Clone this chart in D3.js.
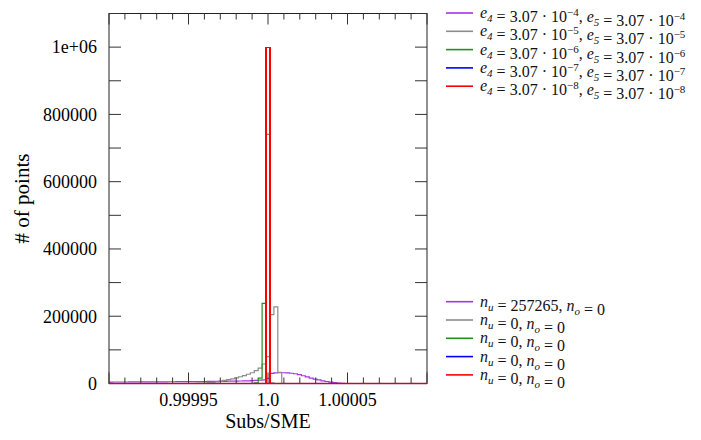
<!DOCTYPE html>
<html>
<head>
<meta charset="utf-8">
<script src="https://cdn.jsdelivr.net/npm/d3@7"></script>
<style>
  body { margin: 0; background: #fff; }
  svg { display: block; }
  svg text { font-family: "Times New Roman", Tinos, "Liberation Serif", "Noto Serif", "DejaVu Serif", Times, serif; }
</style>
</head>
<body>
<div id="graph"></div>
<script>
// binning of the histograms (81 bins, centre bin on 1.0)
const binLo = 0.9999, binHi = 1.0001, nBins = 81;

// counts per bin, starting at bin offset (0 = bin centred on 1.0)
const purpleStart = -40;
const purpleCounts = [4300, 4400, 4400, 4500, 4500, 4600, 4600, 4700, 4700, 4800,
  4800, 4900, 5000, 5000, 5100, 5200, 5200, 5300, 5400, 5500,
  5600, 5700, 5800, 5900, 6000, 6100, 6200, 6400, 6500, 6600,
  6800, 7000, 7200, 7400, 7700, 8000, 8500, 9000, 9800, 11000,
  15000,
  30000, 31500, 32000, 32000, 31500, 30500, 29000, 26500, 23000, 19500,
  16000, 13000, 10500, 8000, 6000, 4200, 2600, 1300, 500];
const greyStart = -18;
const greyCounts = [600, 1000, 1500, 2500, 3500, 5000, 7000, 9000, 11500, 14000,
  17000, 20000, 23500, 27500, 32000, 38000, 46000, 58000, 80000,
  205000, 228000, 33000];
const greenStart = -3;
const greenCounts = [2000, 16000, 238000, 741000, 1000];
const blueStart = -1;
const blueCounts = [1000, 999000];
const redStart = 0;
const redCounts = [1000000];

const colors = ["#a633e8", "#8c8c8c", "#1f8f1f", "#0000ff", "#ff0000"];
const exps = ["−4", "−5", "−6", "−7", "−8"];
const underflow = ["257265", "0", "0", "0", "0"];
const overflow = ["0", "0", "0", "0", "0"];

const yTicks = d3.range(0, 1100001, 100000);
const yLabels = [0, 200000, 400000, 600000, 800000, 1000000];
const xMajor = [0.99995, 1.0, 1.00005];
const xLabels = ["0.99995", "1.0", "1.00005"];

const width = 701, height = 440;
const margin = { left: 109, right: 274, top: 13.5, bottom: 56.5 };

function fullCounts(start, counts) {
  const arr = new Array(nBins).fill(0);
  counts.forEach((c, i) => { arr[start + (nBins - 1) / 2 + i] = c; });
  return arr;
}

const series = [
  fullCounts(purpleStart, purpleCounts),
  fullCounts(greyStart, greyCounts),
  fullCounts(greenStart, greenCounts),
  fullCounts(blueStart, blueCounts),
  fullCounts(redStart, redCounts)
];

const x = d3.scaleLinear().domain([binLo, binHi]).range([margin.left, width - margin.right]);
const y = d3.scaleLinear().domain([0, 1100000]).range([height - margin.bottom, margin.top]);
const binW = (binHi - binLo) / nBins;

const svg = d3.select("#graph").append("svg")
  .attr("width", width).attr("height", height);

// histograms
const line = d3.line().curve(d3.curveStepAfter).x(d => x(d[0])).y(d => y(d[1]));
series.forEach((counts, s) => {
  const pts = counts.map((c, i) => [binLo + i * binW, c]);
  pts.push([binHi, counts[nBins - 1]]);
  svg.append("path")
    .attr("d", line(pts))
    .attr("fill", "none")
    .attr("stroke", colors[s])
    .attr("stroke-width", 1.2)
    .attr("shape-rendering", s >= 3 ? "crispEdges" : null);
});

// frame
const x0 = x.range()[0], x1 = x.range()[1], y0 = y.range()[0], y1 = y.range()[1];
svg.append("rect")
  .attr("x", x0).attr("y", y1).attr("width", x1 - x0).attr("height", y0 - y1)
  .attr("fill", "none").attr("stroke", "#222").attr("stroke-width", 1);

const ticks = svg.append("g").attr("stroke", "#333").attr("stroke-width", 1);
// y ticks, both sides
yTicks.forEach(t => {
  ticks.append("line").attr("x1", x0).attr("x2", x0 + 12).attr("y1", y(t)).attr("y2", y(t));
  ticks.append("line").attr("x1", x1).attr("x2", x1 - 12).attr("y1", y(t)).attr("y2", y(t));
});
// x ticks, top and bottom
d3.range(-10, 11).forEach(k => {
  const v = 1 + k * 1e-5;
  const len = (k % 5 === 0) ? 11 : 6;
  ticks.append("line").attr("x1", x(v)).attr("x2", x(v)).attr("y1", y0).attr("y2", y0 - len);
  ticks.append("line").attr("x1", x(v)).attr("x2", x(v)).attr("y1", y1).attr("y2", y1 + len);
});

// redraw the bottom of the red histogram over the axis
svg.append("line")
  .attr("x1", x0).attr("x2", x1).attr("y1", y(0)).attr("y2", y(0))
  .attr("stroke", "#b0103c").attr("stroke-width", 1.6);

// tick labels
svg.append("g").selectAll("text").data(yLabels).join("text")
  .attr("x", x0 - 12).attr("y", d => y(d)).attr("dy", "0.35em")
  .attr("text-anchor", "end")
  .attr("font-size", 18)
  .text(d => d === 1000000 ? "1e+06" : d);

svg.append("g").selectAll("text").data(xMajor).join("text")
  .attr("x", d => x(d)).attr("y", y0 + 22)
  .attr("text-anchor", "middle")
  .attr("font-size", 18)
  .text((d, i) => xLabels[i]);

// axis titles
svg.append("text")
  .attr("x", (x0 + x1) / 2).attr("y", 428)
  .attr("text-anchor", "middle")
  .attr("font-size", 20)
  .text("Subs/SME");

svg.append("text")
  .attr("transform", `translate(29,${(y0 + y1) / 2}) rotate(-90)`)
  .attr("text-anchor", "middle")
  .attr("font-size", 21)
  .text("# of points");

// legends
const rowH = 18.3;
function legendRow(g, i, top, build) {
  const ry = top + i * rowH;
  g.append("line").attr("x1", 446).attr("x2", 473).attr("y1", ry).attr("y2", ry)
    .attr("stroke", colors[i]).attr("stroke-width", 1.6);
  const t = g.append("text").attr("x", 480).attr("y", ry + 5)
    .attr("font-size", 16).attr("fill", "#111");
  build(t, i);
}
function sub(t, main, s) {
  t.append("tspan").attr("font-style", "italic").text(main);
  t.append("tspan").attr("dy", 4).attr("font-size", 11).attr("font-style", "italic").text(s);
  t.append("tspan").attr("dy", -4).text("");
}

const leg1 = svg.append("g");
exps.forEach((e, i) => legendRow(leg1, i, 13, (t, i) => {
  sub(t, "e", "4");
  t.append("tspan").text(" = 3.07 · 10");
  t.append("tspan").attr("dy", -6).attr("font-size", 11).text(e);
  t.append("tspan").attr("dy", 6).text(", ");
  sub(t, "e", "5");
  t.append("tspan").text(" = 3.07 · 10");
  t.append("tspan").attr("dy", -6).attr("font-size", 11).text(e);
}));

const leg2 = svg.append("g");
underflow.forEach((u, i) => legendRow(leg2, i, 301.7, (t, i) => {
  sub(t, "n", "u");
  t.append("tspan").text(" = " + u + ", ");
  sub(t, "n", "o");
  t.append("tspan").text(" = " + overflow[i]);
}));
</script>
</body>
</html>
